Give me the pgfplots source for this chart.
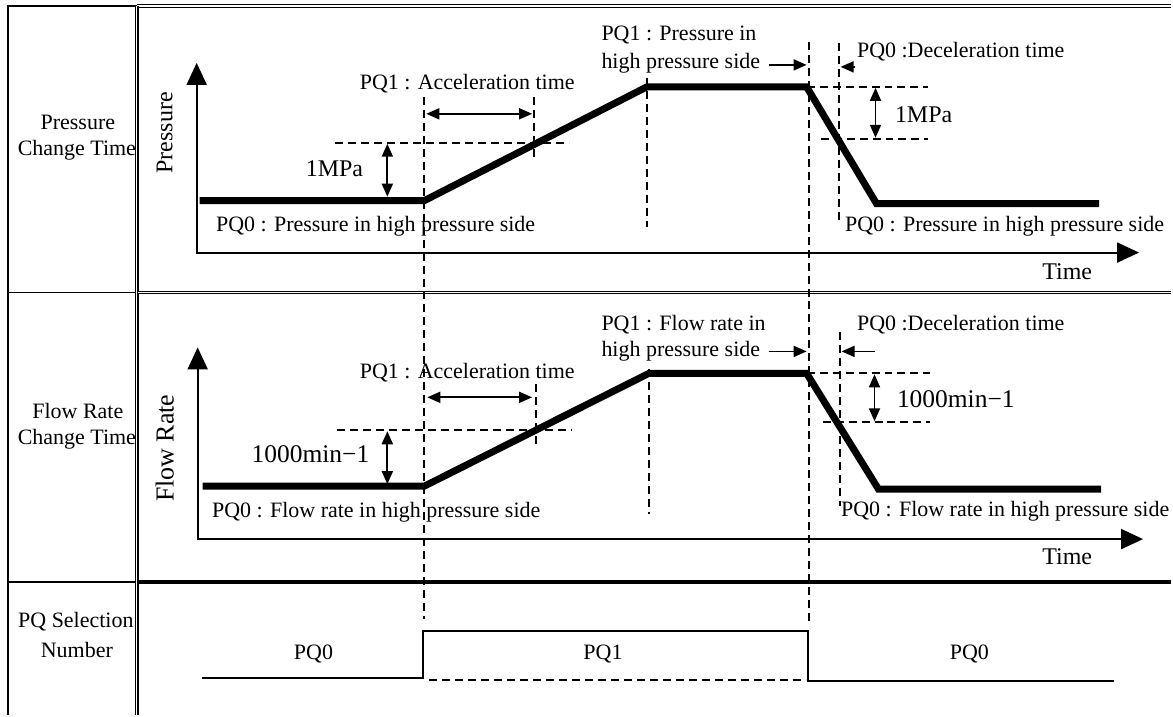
\documentclass[border=0pt]{standalone}
\usepackage{fontspec}
\setmainfont{Liberation Serif}
\usepackage{pgfplots}
\pgfplotsset{compat=1.18}
\usetikzlibrary{arrows.meta}
\definecolor{txt}{HTML}{222222}
\begin{document}
\begin{tikzpicture}[font=\fontsize{22}{26}\selectfont]
\begin{axis}[
  x=1pt, y=1pt, y dir=reverse,
  xmin=0, xmax=1173, ymin=0, ymax=716,
  hide axis, clip=false,
  every node/.append style={inner sep=0pt, text=txt},
  frame/.style={black, line width=2pt},
  dframe/.style={black, double, line width=1.4pt, double distance=1.1pt},
  thickline/.style={black, line width=7pt, line join=miter, line cap=butt},
  dashl/.style={black, line width=1.9pt, dash pattern=on 8pt off 5pt},
  axisl/.style={black, line width=2pt, -{Triangle[width=20pt,length=22pt]}},
  dim/.style={black, line width=1.8pt, {Triangle[width=11pt,length=13pt]}-{Triangle[width=11pt,length=13pt]}},
  onearrow/.style={black, line width=1.8pt, -{Triangle[width=11pt,length=13pt]}},
  sig/.style={black, line width=2pt},
]
% bounding box
\addplot[draw=none] coordinates {(0,0) (1173,716)};

% ---------- frame ----------
\addplot[frame] coordinates {(8,716) (8,6) (137,6)};
\addplot[dframe] coordinates {(137,6) (1173,6)};
\addplot[dframe] coordinates {(137,6) (137,716)};
\addplot[black, line width=1.8pt] coordinates {(8,293) (136,293)};
\addplot[dframe] coordinates {(138,293) (1173,293)};
\addplot[black, line width=2.2pt] coordinates {(8,583) (136,583)};
\addplot[black, line width=4pt] coordinates {(138,583) (1173,583)};

% ---------- row labels ----------
\node at (axis cs:78,123) {Pressure};
\node at (axis cs:77,151) {Change Time};
\node at (axis cs:78,412) {Flow Rate};
\node at (axis cs:77,440) {Change Time};
\node at (axis cs:76,623) {PQ Selection};
\node at (axis cs:77,651) {Number};

% ---------- long dashed verticals ----------
\addplot[dashl] coordinates {(425,97) (425,620)};
\addplot[dashl] coordinates {(810,42) (810,622)};

% ========== TOP PANEL ==========
\addplot[axisl] coordinates {(197,253) (197,63)};
\addplot[axisl] coordinates {(196,253) (1141,253)};
\node[rotate=90, font=\fontsize{24}{28}\selectfont] at (axis cs:165,133) {Pressure};
\node[font=\fontsize{24}{28}\selectfont] at (axis cs:1069,272) {Time};

\addplot[thickline] coordinates {(200,201) (425,201) (648,87) (808,87) (878,204) (1101,204)};

% left 1MPa
\addplot[dashl] coordinates {(336,143) (570,143)};
\addplot[dim] coordinates {(388,144) (388,197)};
\node[font=\fontsize{24}{28}\selectfont] at (axis cs:335,169) {1MPa};
% acceleration
\addplot[dashl] coordinates {(535,97) (535,158)};
\addplot[dim] coordinates {(427,114) (533,114)};
\node[anchor=west] at (axis cs:357,84) {PQ1 : Acceleration time};
\addplot[dashl] coordinates {(648,78) (648,227)};
\node[anchor=west] at (axis cs:599,35) {PQ1 : Pressure in};
\node[anchor=west] at (axis cs:599,63) {high pressure side};
\addplot[onearrow] coordinates {(770,65) (808,65)};
% deceleration
\addplot[dashl] coordinates {(840,43) (840,222)};
\addplot[onearrow] coordinates {(856,67) (842,67)};
\node[anchor=west] at (axis cs:855,52) {PQ0 :Deceleration time};
\addplot[dashl] coordinates {(808,87) (930,87)};
\addplot[dashl] coordinates {(822,139) (930,139)};
\addplot[dim] coordinates {(877,88) (877,138)};
\node[anchor=west, font=\fontsize{24}{28}\selectfont] at (axis cs:893,115) {1MPa};
\node[anchor=west] at (axis cs:213,227) {PQ0 : Pressure in high pressure side};
\node[anchor=west] at (axis cs:843,227) {PQ0 : Pressure in high pressure side};

% ========== MIDDLE PANEL ==========
\addplot[axisl] coordinates {(198,540) (198,348)};
\addplot[axisl] coordinates {(197,540) (1145,540)};
\node[rotate=90, font=\fontsize{26}{30}\selectfont] at (axis cs:165,449) {Flow Rate};
\node[font=\fontsize{24}{28}\selectfont] at (axis cs:1069,558) {Time};

\addplot[thickline] coordinates {(203,487) (425,487) (650,374) (808,374) (880,490) (1103,490)};

\addplot[dashl] coordinates {(338,431) (573,431)};
\addplot[dim] coordinates {(388,432) (388,485)};
\node[font=\fontsize{25.5}{30}\selectfont] at (axis cs:311,455) {1000min−1};
\addplot[dashl] coordinates {(537,385) (537,445)};
\addplot[dim] coordinates {(428,398) (533,398)};
\node[anchor=west] at (axis cs:357,373) {PQ1 : Acceleration time};
\addplot[dashl] coordinates {(650,370) (650,515)};
\node[anchor=west] at (axis cs:599,325) {PQ1 : Flow rate in};
\node[anchor=west] at (axis cs:599,352) {high pressure side};
\addplot[onearrow] coordinates {(770,352) (808,352)};
\addplot[dashl] coordinates {(841,333) (841,507)};
\addplot[onearrow] coordinates {(876,352) (843,352)};
\node[anchor=west] at (axis cs:855,325) {PQ0 :Deceleration time};
\addplot[dashl] coordinates {(808,374) (932,374)};
\addplot[dashl] coordinates {(824,423) (932,423)};
\addplot[dim] coordinates {(876,375) (876,422)};
\node[anchor=west, font=\fontsize{25.5}{30}\selectfont] at (axis cs:895,400) {1000min−1};
\node[anchor=west] at (axis cs:209,513) {PQ0 : Flow rate in high pressure side};
\node[anchor=west] at (axis cs:839,512) {PQ0 : Flow rate in high pressure side};

% ========== BOTTOM PANEL ==========
\addplot[sig] coordinates {(202,679) (424,679) (424,632) (809,632) (809,682) (1116,682)};
\addplot[black, line width=2.2pt, dash pattern=on 8pt off 5pt] coordinates {(430,681) (807,681)};
\node at (axis cs:314,655) {PQ0};
\node at (axis cs:604,655) {PQ1};
\node at (axis cs:971,655) {PQ0};
\end{axis}
\end{tikzpicture}
\end{document}
